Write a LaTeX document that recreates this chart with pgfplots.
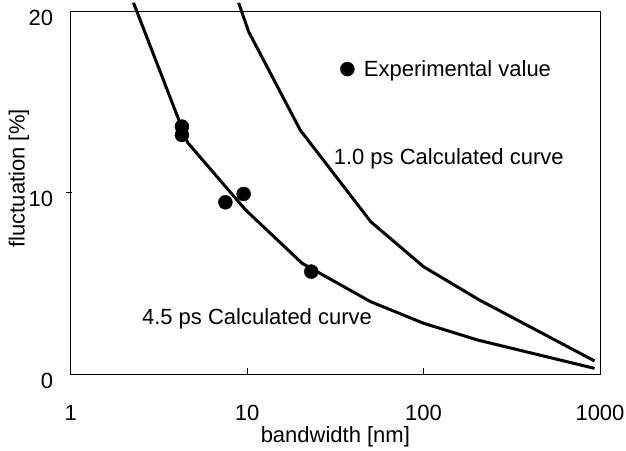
\documentclass[border=0pt]{standalone}
\usepackage{fontspec}
\setmainfont{Liberation Sans}
\usepackage{pgfplots}
\pgfplotsset{compat=1.18}
\begin{document}
\fontsize{22}{26}\selectfont
\begin{tikzpicture}
\begin{axis}[
  scale only axis, width=529.3pt, height=363pt,
  xmode=log, xmin=1, xmax=1000, ymin=0, ymax=20,
  clip=false,
  axis line style={line width=0.9pt},
  every tick/.style={black, line width=0.9pt},
  major tick length=6pt,
  tick align=inside,
  xminorticks=false, yminorticks=false,
  xtick pos=bottom, ytick pos=left,
  xtick={1,10,100,1000}, xticklabels={1,10,100,1000},
  xticklabel style={anchor=base, inner sep=0pt, yshift=-46pt},
  ytick={10}, yticklabels={10},
  ytick style={xshift=-5pt},
  extra y ticks={0,20}, extra y tick labels={0,20},
  extra y tick style={major tick length=0pt},
  yticklabel style={anchor=east, inner sep=0pt, xshift=-17.5pt, yshift=-6.5pt},
  every axis x label/.style={at={(axis description cs:0.5,0)}, yshift=-63pt, anchor=center},
  every axis y label/.style={at={(axis description cs:0,0.539)}, xshift=-51.7pt, rotate=90, anchor=center},
  xlabel={bandwidth [nm]},
  ylabel={fluctuation [\%]},
]
% 4.5 ps calculated curve
\addplot[black, line width=3pt, line join=round] coordinates {
 (2.27,20.45) (4.6,12.75) (9.8,9.04) (20.5,6.1) (50.2,3.98) (100.4,2.79) (203,1.87) (931,0.31)
};
% 1.0 ps calculated curve
\addplot[black, line width=3pt, line join=round] coordinates {
 (8.95,20.45) (10.2,18.86) (20.0,13.44) (50.2,8.39) (100,5.91) (207,4.08) (931,0.72)
};
% experimental values
\addplot[only marks, mark=*, mark size=7pt, black] coordinates {
 (4.27,13.63) (4.27,13.17) (7.53,9.46) (9.56,9.92) (23.1,5.64)
};
% legend marker
\addplot[only marks, mark=*, mark size=7pt, black] coordinates {(37,16.8)};
\node[anchor=base west, inner sep=0pt] at (axis cs:45.8,16.38) {Experimental value};
\node[anchor=base west, inner sep=0pt] at (axis cs:30.9,11.52) {1.0 ps Calculated curve};
\node[anchor=base west, inner sep=0pt] at (axis cs:2.53,2.70) {4.5 ps Calculated curve};
\end{axis}
\pgfresetboundingbox
\path ([xshift=-70.7pt,yshift=-76pt]current axis.south west) rectangle ([xshift=26pt,yshift=11pt]current axis.north east);
\end{tikzpicture}
\end{document}
